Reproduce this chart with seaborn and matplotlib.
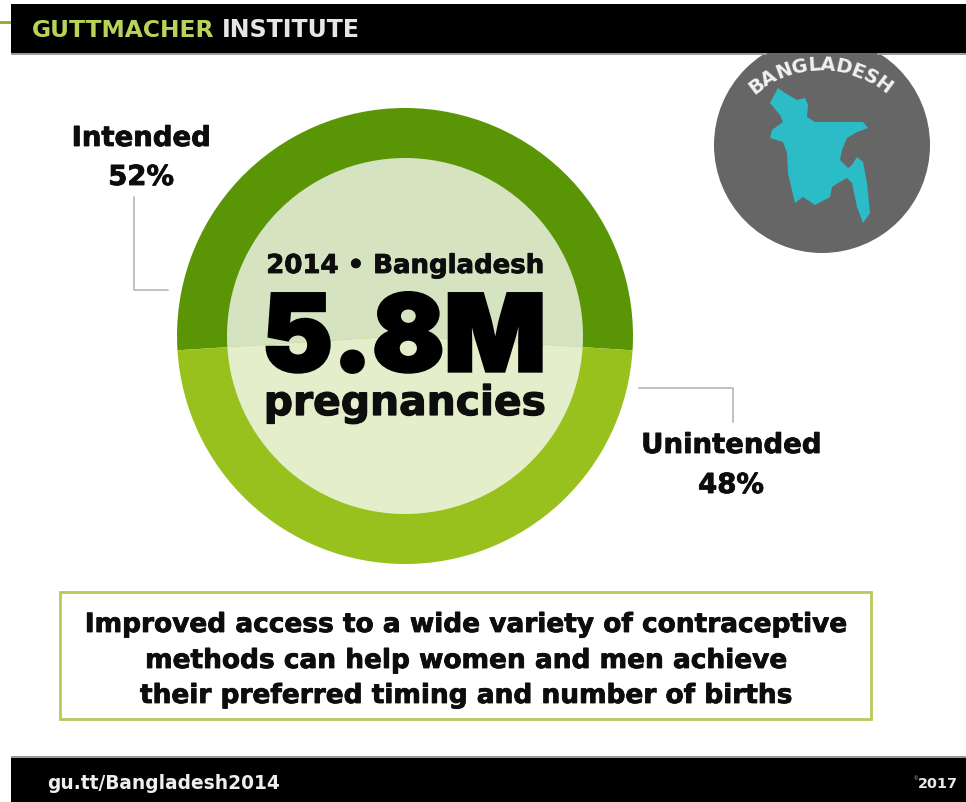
import numpy as np
import matplotlib
matplotlib.use("Agg")
import matplotlib.pyplot as plt
import matplotlib.patheffects as pe
from matplotlib.patches import Circle, Polygon, Rectangle
import seaborn as sns

categories = ["Intended", "Unintended"]
shares = [52, 48]
ring_colors = ["#5a9506", "#98c11e"]
core_colors = ["#d6e3c0", "#e4eecb"]
title_year = "2014 • Bangladesh"
headline = "5.8M"
headline_unit = "pregnancies"
message = ["Improved access to a wide variety of contraceptive",
           "methods can help women and men achieve",
           "their preferred timing and number of births"]
map_x = [778, 785, 797, 805, 808, 807, 815, 840, 863, 868, 857, 847, 842, 840, 848, 852, 857,
         863, 867, 870, 863, 857, 852, 847, 838, 832, 830, 815, 803, 795, 788, 787, 783, 770,
         772, 783, 780, 770]
map_y = [88, 93, 100, 98, 105, 117, 122, 122, 122, 128, 132, 138, 150, 160, 168, 165, 157,
         162, 183, 213, 223, 207, 183, 178, 183, 187, 197, 205, 197, 203, 173, 153, 142, 138,
         130, 122, 115, 103]

W, H = 966, 802
INK = "#0d0d0d"
sns.set_theme(style="white")
plt.rcParams["font.family"] = ["DejaVu Sans"]

fig = plt.figure(figsize=(W / 100, H / 100), dpi=100, facecolor="white")


def heavy(width=0.6, color=INK):
    """Slight outline that thickens the bold face."""
    return [pe.withStroke(linewidth=width, foreground=color, joinstyle="miter")]


# Full-canvas layer in pixel units for the banners, callouts and badge
bg = fig.add_axes([0, 0, 1, 1], zorder=1)
bg.set_xlim(0, W)
bg.set_ylim(H, 0)
bg.axis("off")


def hbar(y0, y1, x0, x1, color, z=3):
    bg.add_patch(Rectangle((x0, y0), x1 - x0, y1 - y0, color=color, lw=0, zorder=z))


# Badge with the country outline; the header bar clips its top edge
bg.add_patch(Circle((822, 145), 108, color="#666666", lw=0, zorder=2))
bg.add_patch(Polygon(np.column_stack([map_x, map_y]), closed=True, color="#2cbcc8", lw=0, zorder=2.5))

hbar(4, 53, 11, W, "black")
hbar(53, 55, 11, 767, "#9a9a9a")
hbar(53, 55, 877, W, "#9a9a9a")
hbar(21, 24, 0, 11, "#8fb52b")
hbar(758, 802, 11, W, "black")
hbar(756, 758, 11, W, "#9a9a9a")

bg.text(32, 37, "GUTTMACHER", color="#b9d25a", fontsize=16.8, weight="bold", va="baseline", ha="left", zorder=4)
bg.text(222, 37, "INSTITUTE", color="#e6e6e6", fontsize=17, weight="bold", va="baseline", ha="left", zorder=4)
bg.text(47, 789, "gu.tt/Bangladesh2014", color="#eeeeee", fontsize=13.4, weight="bold", va="baseline", ha="left", zorder=4)
bg.text(958, 788, "2017", color="#e8e8e8", fontsize=10.4, weight="bold", va="baseline", ha="right", zorder=4)
bg.text(918, 779, "©", color="#cccccc", fontsize=3.5, va="center", ha="right", zorder=4)

# Leader lines from the labels to the ring
bg.plot([134, 134, 168], [197, 290, 290], color="#b5b5b5", lw=1.2)
bg.plot([639, 733, 733], [388, 388, 422], color="#b5b5b5", lw=1.2)

label_style = dict(color=INK, fontsize=19.8, weight="bold", ha="center", va="baseline", path_effects=heavy())
bg.text(141, 146, categories[0], **label_style)
bg.text(141, 185, f"{shares[0]}%", **label_style)
bg.text(731, 453, categories[1], **label_style)
bg.text(731, 493, f"{shares[1]}%", **label_style)

# Country name set letter by letter along an arc, spaced by glyph width
name = "BANGLADESH"
renderer = fig.canvas.get_renderer()
letters = [bg.text(0, 0, ch, color="#f2f2f2", fontsize=14, weight="bold", ha="center",
                   va="center", rotation_mode="anchor", zorder=5) for ch in name]
widths = np.array([t.get_window_extent(renderer).width for t in letters]) + 0.2
arc_r = 105
mids = np.cumsum(widths) - widths / 2
mids = (mids - widths.sum() / 2) / arc_r
for t, a in zip(letters, mids):
    t.set_position((820 + arc_r * np.sin(a), 170 - arc_r * np.cos(a)))
    t.set_rotation(-np.rad2deg(a))

# Callout box
bg.add_patch(Rectangle((60, 592), 811, 127, facecolor="white", edgecolor="#b4cc5a", lw=2))
for y, line in zip([632, 668, 703], message):
    bg.text(466, y, line, color=INK, fontsize=19, weight="bold", ha="center", va="baseline", path_effects=heavy())

# Share ring: two nested pies built from the same percentages
cx, cy, R = 405, 336, 228
pie_ax = fig.add_axes([(cx - R) / W, 1 - (cy + R) / H, 2 * R / W, 2 * R / H], zorder=2)
start = 90 - shares[0] * 3.6 / 2
pie_ax.pie(shares, colors=ring_colors, startangle=start, radius=1.0, wedgeprops=dict(linewidth=0))
pie_ax.pie(shares, colors=core_colors, startangle=start, radius=178 / R, wedgeprops=dict(linewidth=0))
pie_ax.set_xlim(-1, 1)
pie_ax.set_ylim(-1, 1)
pie_ax.set_aspect("equal")

# Centre text sits above the ring
fg = fig.add_axes([0, 0, 1, 1], zorder=3)
fg.set_xlim(0, W)
fg.set_ylim(H, 0)
fg.axis("off")
fg.patch.set_alpha(0)
fg.text(405, 273, title_year, color=INK, fontsize=18.7, weight="bold", ha="center", va="baseline", path_effects=heavy())
fg.text(404, 371, headline, color="black", fontsize=76.5, weight="black", family=["Inter", "DejaVu Sans"],
        ha="center", va="baseline", path_effects=heavy(2.4, "black"))
fg.text(405, 415, headline_unit, color=INK, fontsize=29.4, weight="bold", ha="center", va="baseline", path_effects=heavy(0.9))

fig.savefig("out.png", dpi=100, facecolor="white")
